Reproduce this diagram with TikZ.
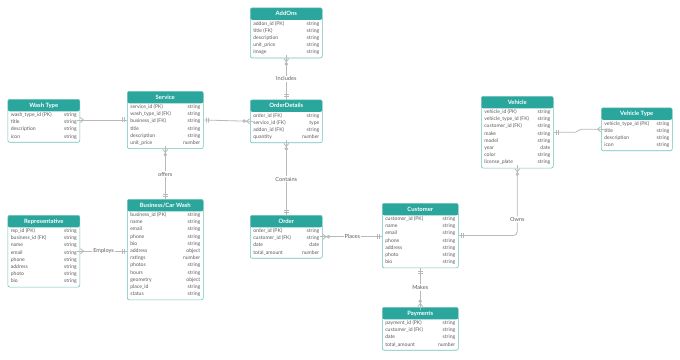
\documentclass[tikz,border=0pt]{standalone}
\usepackage{fontspec}
\setmainfont{Lato}
\usepackage{xcolor}
\usepackage{tikz}
\usetikzlibrary{arrows.meta}
\definecolor{erteal}{HTML}{2AA69C}
\definecolor{ertealline}{HTML}{6CC3BC}
\definecolor{ergray}{HTML}{B8B8B8}
\definecolor{ertext}{HTML}{5C5C5C}

\newcommand{\ertitle}[1]{\multicolumn{2}{c}{\rule[-4pt]{0pt}{12pt}\color{white}\fontsize{5.9}{6}\selectfont\bfseries #1}\\[2pt]}

\tikzset{
  erone/.tip={Bar[width=5pt,sep=1.3pt] Bar[width=5pt,sep=0pt] Rectangle[length=2.5pt,width=0.8pt,line width=0pt]},
  ermany/.tip={Straight Barb[reversed,length=3pt,width=5pt] Rectangle[length=3pt,width=0.8pt,line width=0pt,sep=-3pt]},
  erzmany/.tip={Circle[open,length=3.5pt,width=3.5pt] Straight Barb[reversed,length=3pt,width=5pt] Rectangle[length=3pt,width=0.8pt,line width=0pt,sep=-3pt]},
}

\begin{document}
\begin{tikzpicture}[x=1pt, y=-1pt,
  tbl/.style={draw=ertealline, line width=0.6pt, fill=white, rounded corners=2pt, inner xsep=3pt, inner ysep=0pt, anchor=north west, text=ertext, font=\fontsize{5.1}{7.2}\selectfont,
    path picture={\fill[erteal] (path picture bounding box.north west) rectangle ([yshift=-12pt]path picture bounding box.north east);}},
  con/.style={draw=ergray, line width=0.8pt},
  lbl/.style={fill=white, text=ertext, font=\fontsize{5.6}{6}\selectfont, inner sep=1pt}]
  \useasboundingbox (0,0) rectangle (680,359);

  % tables
  \node[tbl] (addons) at (250,7.5) {\begin{tabular*}{66pt}{@{}l@{\extracolsep{\fill}}r@{}}
    \ertitle{AddOns}
    addon\_id (PK) & string \\ title (FK) & string \\ description & string \\ unit\_price & string \\ image & string \\[2pt]
  \end{tabular*}};
  \node[tbl] (orderdetails) at (250,99.5) {\begin{tabular*}{66pt}{@{}l@{\extracolsep{\fill}}r@{}}
    \ertitle{OrderDetails}
    order\_id (FK) & string \\ service\_id (FK) & type \\ addon\_id (FK) & string \\ quantity & number \\[2pt]
  \end{tabular*}};
  \node[tbl] (washtype) at (7.5,99) {\begin{tabular*}{66pt}{@{}l@{\extracolsep{\fill}}r@{}}
    \ertitle{Wash Type}
    wash\_type\_id (PK) & string \\ title & string \\ description & string \\ icon & string \\[2pt]
  \end{tabular*}};
  \node[tbl] (service) at (127,91) {\begin{tabular*}{70pt}{@{}l@{\extracolsep{\fill}}r@{}}
    \ertitle{Service}
    service\_id (PK) & string \\ wash\_type\_id (FK) & string \\ business\_id (FK) & string \\ title & string \\ description & string \\ unit\_price & number \\[2pt]
  \end{tabular*}};
  \node[tbl] (representative) at (7.5,215) {\begin{tabular*}{66pt}{@{}l@{\extracolsep{\fill}}r@{}}
    \ertitle{Representative}
    rep\_id (PK) & string \\ business\_id (FK) & string \\ name & string \\ email & string \\ phone & string \\ address & string \\ photo & string \\ bio & string \\[2pt]
  \end{tabular*}};
  \node[tbl] (business) at (127,199) {\begin{tabular*}{70pt}{@{}l@{\extracolsep{\fill}}r@{}}
    \ertitle{Business/Car Wash}
    business\_id (PK) & string \\ name & string \\ email & string \\ phone & string \\ bio & string \\ address & object \\ ratings & number \\ photos & string \\ hours & string \\ geometry & object \\ place\_id & string \\ status & string \\[2pt]
  \end{tabular*}};
  \node[tbl] (order) at (250,215) {\begin{tabular*}{66pt}{@{}l@{\extracolsep{\fill}}r@{}}
    \ertitle{Order}
    order\_id (PK) & string \\ customer\_id (FK) & string \\ date & date \\ total\_amount & number \\[2pt]
  \end{tabular*}};
  \node[tbl] (customer) at (382,203) {\begin{tabular*}{70pt}{@{}l@{\extracolsep{\fill}}r@{}}
    \ertitle{Customer}
    customer\_id (PK) & string \\ name & string \\ email & string \\ phone & string \\ address & string \\ photo & string \\ bio & string \\[2pt]
  \end{tabular*}};
  \node[tbl] (vehicle) at (481,96) {\begin{tabular*}{66pt}{@{}l@{\extracolsep{\fill}}r@{}}
    \ertitle{Vehicle}
    vehicle\_id (PK) & string \\ vehicle\_type\_id (FK) & string \\ customer\_id (FK) & string \\ make & string \\ model & string \\ year & date \\ color & string \\ license\_plate & string \\[2pt]
  \end{tabular*}};
  \node[tbl] (vehicletype) at (601,107.5) {\begin{tabular*}{65pt}{@{}l@{\extracolsep{\fill}}r@{}}
    \ertitle{Vehicle Type}
    vehicle\_type\_id (PK) & string \\ title & string \\ description & string \\ icon & string \\[2pt]
  \end{tabular*}};
  \node[tbl] (payments) at (382,307) {\begin{tabular*}{70pt}{@{}l@{\extracolsep{\fill}}r@{}}
    \ertitle{Payments}
    payment\_id (PK) & string \\ customer\_id (FK) & string \\ date & string \\ total\_amount & number \\[2pt]
  \end{tabular*}};

  % relations
  \draw[con, {erone}-{erzmany}] (orderdetails.north) -- node[lbl] {Includes} (addons.south);
  \draw[con, {erone}-{ermany}] (service.west) -- (service.west -| washtype.east);
  \draw[con, {erone}-{erzmany}] (service.east) -- (orderdetails.west);
  \draw[con, {erone}-{erzmany}] (business.north) -- node[lbl] {offers} (service.south);
  \draw[con, {erone}-{ermany}] (representative.east -| business.west) -- node[lbl] {Employs} (representative.east);
  \draw[con, {erone}-{erzmany}] (order.north) -- node[lbl] {Contains} (orderdetails.south);
  \draw[con, {erone}-{erzmany}] (order.east -| customer.west) -- node[lbl] {Places} (order.east);
  \draw[con, {erone}-{ermany}] (vehicle.east) -- ([xshift=22pt]vehicle.east) -- ([xshift=-20pt]vehicletype.west) -- (vehicletype.west);
  \draw[con, rounded corners=4pt, {erone}-{erzmany}] (customer.east) -| node[lbl, pos=0.62] {Owns} (vehicle.south);
  \draw[con, {erone}-{erzmany}] (customer.south) -- node[lbl] {Makes} (payments.north);
\end{tikzpicture}
\end{document}
